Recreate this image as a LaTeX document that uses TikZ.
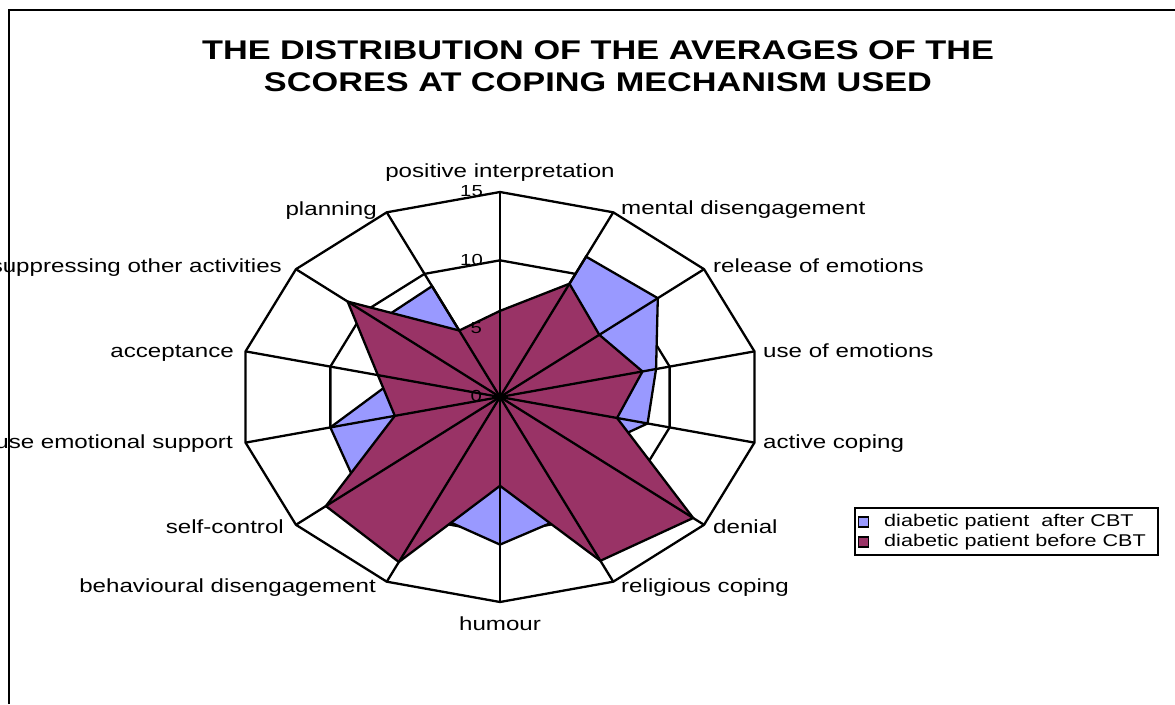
\documentclass[tikz,border=0pt]{standalone}
\usepackage{fontspec}
\setmainfont{Liberation Sans}
\usepackage{graphicx}
\definecolor{aftercol}{HTML}{9999FF}
\definecolor{beforecol}{HTML}{993366}
\newcommand\hs[1]{\scalebox{1.27}[1]{#1}}
\tikzset{
  gridline/.style={draw=black, line width=2.3pt, line join=miter},
  series/.style={draw=black, line width=2.3pt, line join=miter},
  lab/.style={inner sep=0pt, font=\fontsize{19}{22}\selectfont},
  num/.style={inner sep=0pt, font=\fontsize{16}{19}\selectfont},
  titletext/.style={inner sep=0pt, font=\fontsize{27}{32}\selectfont\bfseries},
  legtext/.style={inner sep=0pt, anchor=west, font=\fontsize{17}{20}\selectfont},
  legmark/.style={draw=black, line width=1.6pt, minimum size=10pt, inner sep=0pt},
}
\begin{document}
\begin{tikzpicture}[x=1pt,y=-1pt]
\useasboundingbox (0,0) rectangle (1175,704);
\fill[white] (0,0) rectangle (1175,704);
% frame
\draw[line width=2.3pt] (9,704) -- (9,10) -- (1175,10);
% title
\node[titletext, anchor=base] (t1) at (598,59.5) {\hs{THE DISTRIBUTION OF THE AVERAGES OF THE}};
\node[titletext, anchor=base] (t2) at (598,91.5) {\hs{SCORES AT COPING MECHANISM USED}};
% axis coordinates
\coordinate (C) at (500,397);
\foreach \k in {0,...,13}{
  \pgfmathsetmacro\ang{90-\k*360/14}
  \coordinate (O\k) at ({500+261*cos(\ang)},{397-205*sin(\ang)});
  \coordinate (T\k) at ({500+174*cos(\ang)},{397-136.67*sin(\ang)});
  \coordinate (F\k) at ({500+87*cos(\ang)},{397-68.33*sin(\ang)});
}
% rings
\draw[gridline] (O0) \foreach \k in {1,...,13}{ -- (O\k)} -- cycle;
\draw[gridline] (T0) \foreach \k in {1,...,13}{ -- (T\k)} -- cycle;
\draw[gridline] (F0) \foreach \k in {1,...,13}{ -- (F\k)} -- cycle;
% data: after CBT
\foreach \v [count=\k from 0] in {0,11.4,11.6,9.2,8.7,6.4,9.5,10.8,9.4,10.5,10.0,6.1,8.9,9.0}{
  \coordinate (B\k) at ({500+17.4*\v*cos(90-\k*360/14)},{397-13.667*\v*sin(90-\k*360/14)});
}
% data: before CBT
\foreach \v [count=\k from 0] in {6.3,9.2,7.3,8.4,6.9,14.2,13.3,6.5,13.4,12.8,6.2,7.2,11.2,5.4}{
  \coordinate (M\k) at ({500+17.4*\v*cos(90-\k*360/14)},{397-13.667*\v*sin(90-\k*360/14)});
}
\filldraw[series, fill=aftercol] (B0) \foreach \k in {1,...,13}{ -- (B\k)} -- cycle;
\filldraw[series, fill=beforecol] (M0) \foreach \k in {1,...,13}{ -- (M\k)} -- cycle;
% spokes
\foreach \k in {0,...,13}{ \draw[gridline] (C) -- (O\k); }
% scale numbers
\node[num, anchor=east] (n15) at (483,191) {\hs{15}};
\node[num, anchor=east] (n10) at (483,260) {\hs{10}};
\node[num, anchor=east] (n5) at (482,328) {\hs{5}};
\node[num, anchor=east] (n0) at (482,396) {\hs{0}};
% category labels
\node[lab, anchor=base] (l0) at (500,177) {\hs{positive interpretation}};
\node[lab, anchor=base west] (l1) at (621,214) {\hs{mental disengagement}};
\node[lab, anchor=base west] (l2) at (713,272) {\hs{release of emotions}};
\node[lab, anchor=base west] (l3) at (763,357) {\hs{use of emotions}};
\node[lab, anchor=base west] (l4) at (763,448) {\hs{active coping}};
\node[lab, anchor=base west] (l5) at (713,533) {\hs{denial}};
\node[lab, anchor=base west] (l6) at (621,592) {\hs{religious coping}};
\node[lab, anchor=base] (l7) at (500,630) {\hs{humour}};
\node[lab, anchor=base east] (l8) at (376,592) {\hs{behavioural disengagement}};
\node[lab, anchor=base east] (l9) at (284,533) {\hs{self-control}};
\node[lab, anchor=base east] (l10) at (233,448) {\hs{use emotional support}};
\node[lab, anchor=base east] (l11) at (234,357) {\hs{acceptance}};
\node[lab, anchor=base east] (l12) at (282,272) {\hs{suppressing other activities}};
\node[lab, anchor=base east] (l13) at (377,215) {\hs{planning}};
% legend
\draw[line width=2.3pt] (855,508) rectangle (1158,555);
\node[legmark, fill=aftercol] (m1) at (863.5,522) {};
\node[legmark, fill=beforecol] (m2) at (863.5,542) {};
\node[legtext] (g1) at (884,522) {\hs{diabetic patient\hspace{0.55em}after CBT}};
\node[legtext] (g2) at (884,542) {\hs{diabetic patient before CBT}};
\end{tikzpicture}
\end{document}
